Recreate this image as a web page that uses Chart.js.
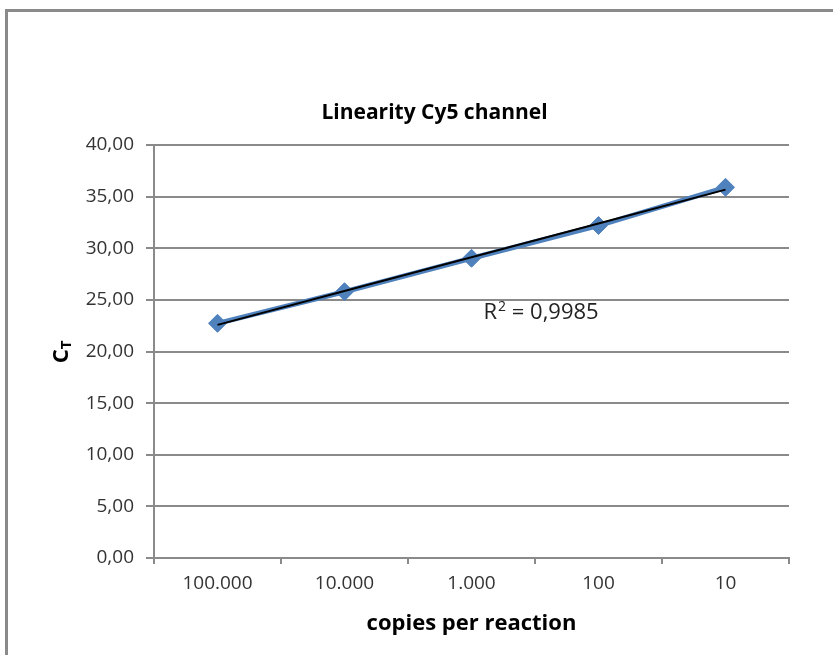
<!DOCTYPE html>
<html>
<head>
<meta charset="utf-8">
<script src="https://cdn.jsdelivr.net/npm/chart.js@4.4.1/dist/chart.umd.min.js"></script>
<style>
  html, body { margin: 0; padding: 0; background: #fff; overflow: hidden; }
  #frame { position: absolute; left: 5px; top: 9px; width: 900px; height: 700px;
           border-top: 3px solid #8a8a8a; border-left: 3px solid #8a8a8a; }
  #wrap { position: absolute; left: 0; top: 0; width: 869px; height: 655px; }
</style>
</head>
<body>
<div id="frame"></div>
<div id="wrap"><canvas id="chart"></canvas></div>
<script>
    'use strict';

    // data
    const copies = ['100.000', '10.000', '1.000', '100', '10']
    const ctValues = [22.73, 25.79, 29.03, 32.20, 35.90]
    const chartTitle = 'Linearity Cy5 channel'
    const xTitle = 'copies per reaction'
    const r2Text = '0,9985'

    // linear trendline (least squares over category index)
    function trend(ys) {
        let n = ys.length
        let mx = (n - 1) / 2
        let my = ys.reduce((a, b) => a + b, 0) / n
        let num = 0, den = 0
        ys.forEach((y, i) => { num += (i - mx) * (y - my); den += (i - mx) * (i - mx) })
        let k = num / den
        return ys.map((y, i) => my + k * (i - mx))
    }
    const trendValues = trend(ctValues)

    const FONT = "'Open Sans', 'Liberation Sans', sans-serif"

    const textPlugin = {
        id: 'texts',
        afterDraw(chart) {
            let ctx = chart.ctx
            let area = chart.chartArea
            let sx = chart.scales.x, sy = chart.scales.y
            ctx.save()
            ctx.fillStyle = '#000'
            ctx.textBaseline = 'middle'

            // title
            ctx.textAlign = 'center'
            ctx.font = 'bold 21px ' + FONT
            ctx.fillText(chartTitle, 434.5, 113)

            // x axis title
            ctx.font = 'bold 22px ' + FONT
            ctx.fillText(xTitle, (area.left + area.right) / 2, 624)

            // y axis title C with subscript T
            ctx.save()
            ctx.translate(62, 352)
            ctx.rotate(-Math.PI / 2)
            ctx.textAlign = 'left'
            ctx.font = 'bold 22px ' + FONT
            let wC = ctx.measureText('C').width
            ctx.font = 'bold 15px ' + FONT
            let wT = ctx.measureText('T').width
            let x0 = -(wC + wT) / 2
            ctx.font = 'bold 22px ' + FONT
            ctx.fillText('C', x0, 0)
            ctx.font = 'bold 15px ' + FONT
            ctx.fillText('T', x0 + wC, 5)
            ctx.restore()

            // R² label near the trendline
            ctx.textAlign = 'left'
            let lx = sx.getPixelForValue(2) + 12
            let ly = sy.getPixelForValue(23.75)
            ctx.font = '22px ' + FONT
            ctx.fillStyle = '#222'
            ctx.fillText('R', lx, ly)
            let w = ctx.measureText('R').width
            ctx.font = '14px ' + FONT
            ctx.fillText('2', lx + w + 1, ly - 6)
            let w2 = ctx.measureText('2').width
            ctx.font = '22px ' + FONT
            ctx.fillText(' = ' + r2Text, lx + w + w2 + 1, ly)
            ctx.restore()
        }
    }

    new Chart(document.getElementById('chart'), {
        type: 'line',
        data: {
            labels: copies,
            datasets: [
                {
                    data: ctValues,
                    borderColor: '#4f81bd',
                    backgroundColor: '#4f81bd',
                    borderWidth: 5,
                    pointStyle: 'rectRot',
                    pointRadius: 9,
                    pointBorderWidth: 1,
                    tension: 0,
                    order: 2
                },
                {
                    data: trendValues,
                    borderColor: '#000',
                    borderWidth: 2,
                    pointRadius: 0,
                    tension: 0,
                    order: 1
                }
            ]
        },
        options: {
            responsive: true,
            maintainAspectRatio: false,
            animation: false,
            layout: { padding: { left: 0, right: 80, top: 145, bottom: 0 } },
            plugins: {
                legend: { display: false },
                tooltip: { enabled: false },
                title: { display: false }
            },
            scales: {
                x: {
                    offset: true,
                    grid: {
                        offset: true,
                        drawOnChartArea: false,
                        drawTicks: true,
                        tickLength: 6,
                        color: '#8a8a8a',
                        lineWidth: 2
                    },
                    border: { color: '#8a8a8a', width: 2 },
                    ticks: {
                        color: '#333',
                        font: { family: FONT, size: 19 },
                        padding: 8,
                        maxRotation: 0
                    },
                    afterFit(scale) { scale.height = 97 }
                },
                y: {
                    min: 0,
                    max: 40,
                    grid: {
                        color: '#8a8a8a',
                        lineWidth: 2,
                        tickLength: 8
                    },
                    border: { color: '#8a8a8a', width: 2 },
                    ticks: {
                        stepSize: 5,
                        color: '#333',
                        font: { family: FONT, size: 19 },
                        padding: 12,
                        callback: v => v.toFixed(2).replace('.', ',')
                    },
                    afterFit(scale) { scale.width = 154 }
                }
            }
        },
        plugins: [textPlugin]
    })
</script>
</body>
</html>
